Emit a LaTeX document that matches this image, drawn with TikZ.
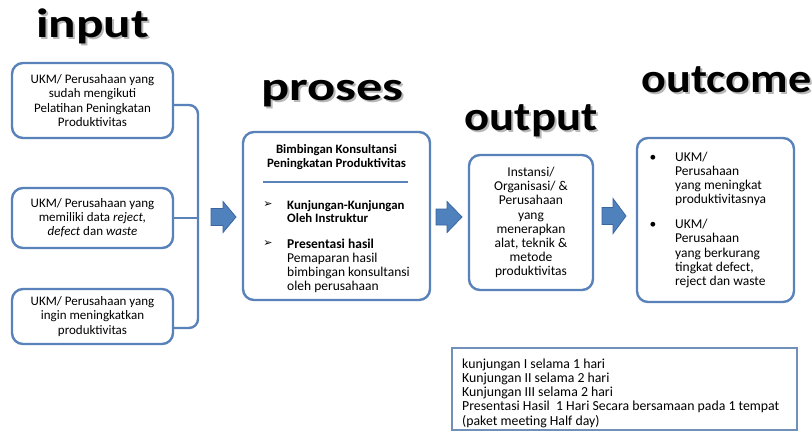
\documentclass[tikz,border=0pt]{standalone}
\usepackage{fontspec}
\usepackage{graphicx}
\setmainfont{Carlito}
\newfontfamily\dejavu{DejaVu Sans}
\definecolor{boxblue}{HTML}{5A82BA}
\definecolor{arrowfill}{HTML}{4F81BD}
\definecolor{arrowdraw}{HTML}{3A65A0}
\definecolor{framegray}{HTML}{7090BA}
\tikzset{
  box/.style={draw=boxblue, line width=2.4pt, rounded corners=11pt, align=center, inner sep=0pt, font=\fontsize{13}{14.2}\selectfont},
  conn/.style={draw=boxblue, line width=2.4pt, rounded corners=9pt},
  bigarrow/.style={fill=arrowfill, draw=arrowdraw, line width=0.8pt, line join=miter},
  titletext/.style={font=\bfseries\fontsize{41}{41}\selectfont, anchor=base, inner sep=0pt},
  shadowtext/.style={text=black!28},
  body/.style={font=\fontsize{13.5}{14.2}\selectfont, inner sep=0pt, align=left},
  bodybold/.style={font=\bfseries\fontsize{12.8}{13.8}\selectfont, inner sep=0pt, align=left},
  bulletmark/.style={font=\dejavu\fontsize{11}{11}\selectfont, inner sep=0pt},
}
\newcommand{\ttl}[2]{\scalebox{#1}[1]{#2}}
\begin{document}
\begin{tikzpicture}[x=1pt,y=-1pt]
\useasboundingbox (0,0) rectangle (812,432);
% titles
\node[titletext, shadowtext] (tin-s) at (94.5,39.5) {\ttl{1.25}{input}};
\node[titletext] (tin) at (92.5,37) {\ttl{1.25}{input}};
\node[titletext, shadowtext] (tpr-s) at (334.5,102.5) {\ttl{1.28}{proses}};
\node[titletext] (tpr) at (332.5,100) {\ttl{1.28}{proses}};
\node[titletext, shadowtext] (tout-s) at (533,132.5) {\ttl{1.14}{output}};
\node[titletext] (tout) at (531,130) {\ttl{1.14}{output}};
\node[titletext, shadowtext] (toc-s) at (728.5,94.5) {\ttl{1.125}{outcome}};
\node[titletext] (toc) at (726.5,92) {\ttl{1.125}{outcome}};
% input boxes
\node[box, minimum width=161pt, minimum height=75pt] (b1) at (92.5,100.5) {UKM/ Perusahaan yang\\sudah mengikuti\\Pelatihan Peningkatan\\Produktivitas};
\node[box, minimum width=161pt, minimum height=60pt] (b2) at (92.5,218) {UKM/ Perusahaan yang\\memiliki data \textit{reject,}\\\textit{defect} dan \textit{waste}};
\node[box, minimum width=161pt, minimum height=55pt] (b3) at (92.5,316.5) {UKM/ Perusahaan yang\\ingin meningkatkan\\produktivitas};
\coordinate (bus) at (198,218);
\draw[conn] ([yshift=-4.5pt]b1.east) -| (bus) |- ([yshift=-11.5pt]b3.east);
\draw[conn] (b2.east) -- (b2.east -| bus);
% block arrows
\draw[bigarrow, shift={(223.5,217)}] (-12.5,-8.5) -- (-0.5,-8.5) -- (-0.5,-15.5) -- (12.5,0) -- (-0.5,15.5) -- (-0.5,8.5) -- (-12.5,8.5) -- cycle;
\draw[bigarrow, shift={(449,217)}] (-13,-8) -- (-2,-8) -- (-2,-15.5) -- (13,0) -- (-2,15.5) -- (-2,8) -- (-13,8) -- cycle;
\draw[bigarrow, shift={(614,216)}] (-12,-8.5) -- (-1,-8.5) -- (-1,-17.5) -- (12,0) -- (-1,17.5) -- (-1,8.5) -- (-12,8.5) -- cycle;
% process box
\node[box, minimum width=187pt, minimum height=168pt] (proc) at (336.5,216) {};
\node[bodybold, align=center] (proctitle) at (336.5,157) {Bimbingan Konsultansi\\Peningkatan Produktivitas};
\draw[draw=boxblue, line width=1.6pt] (263,182) -- (408,182);
\node[bulletmark] (pb1) at (268,205) {➢};
\node[bodybold, anchor=west] (pi1) at (287,211.5) {Kunjungan-Kunjungan\\Oleh Instruktur};
\node[bulletmark] (pb2) at (268,244) {➢};
\node[body, anchor=west] (pi2) at (287,266) {\textbf{Presentasi hasil}\\Pemaparan hasil\\bimbingan konsultansi\\oleh perusahaan};
% output box
\node[box, font=\fontsize{13.5}{14.2}\selectfont, minimum width=124pt, minimum height=135pt] (outb) at (531,222.5) {Instansi/\\Organisasi/ \&\\Perusahaan\\yang\\menerapkan\\alat, teknik \&\\metode\\produktivitas};
% outcome box
\node[box, minimum width=157pt, minimum height=164pt] (ocb) at (715.5,220) {};
\node[body] (ob1) at (653,158) {•};
\node[body, anchor=west] (ot1) at (675,179) {UKM/\\Perusahaan\\yang meningkat\\produktivitasnya};
\node[body] (ob2) at (653,225) {•};
\node[body, anchor=west] (ot2) at (675,253.5) {UKM/\\Perusahaan\\yang berkurang\\tingkat defect,\\reject dan waste};
% schedule box
\node[draw=framegray, line width=1.6pt, minimum width=345pt, minimum height=82pt, inner sep=0pt] (sched) at (624.5,389) {};
\node[body, font=\fontsize{13.8}{14.2}\selectfont, anchor=west] (schedtext) at (462,393) {kunjungan I selama 1 hari\\Kunjungan II selama 2 hari\\Kunjungan III selama 2 hari\\Presentasi Hasil\ \ 1 Hari Secara bersamaan pada 1 tempat\\(paket meeting Half day)};
\end{tikzpicture}
\end{document}
